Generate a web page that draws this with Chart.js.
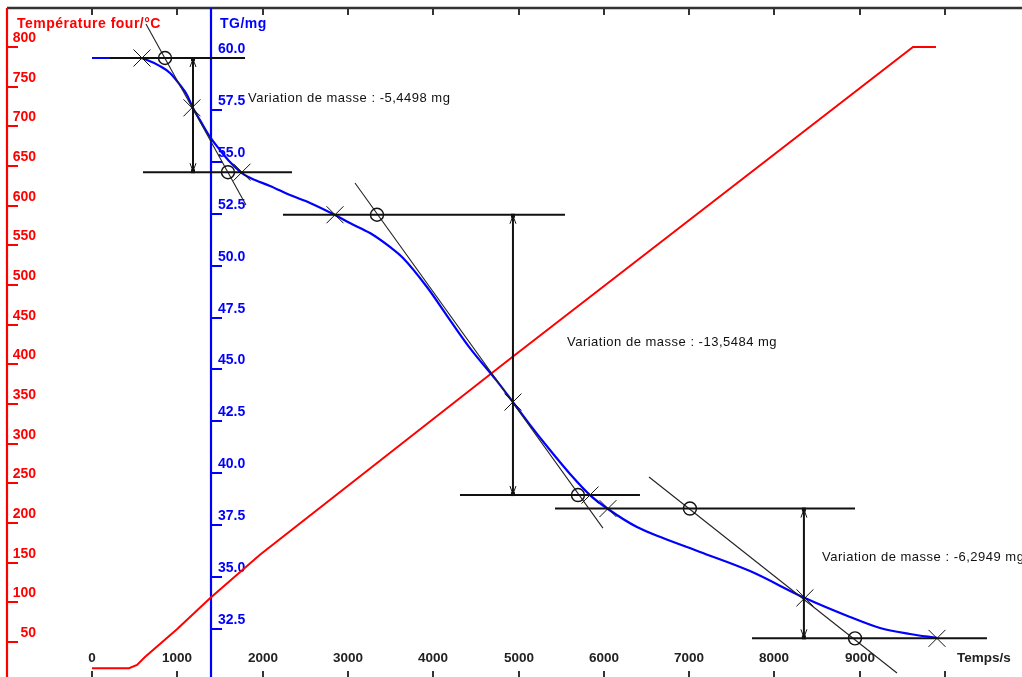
<!DOCTYPE html>
<html>
<head>
<meta charset="utf-8">
<script src="https://cdn.jsdelivr.net/npm/chart.js@4.4.1/dist/chart.umd.min.js"></script>
<style>
html,body{margin:0;padding:0;background:#fff;overflow:hidden}
#wrap{width:1022px;height:677px;position:relative}
</style>
</head>
<body>
<div id="wrap"><canvas id="c"></canvas></div>
<script>
// ---------------- DATA ----------------
// TG curve (time in s, mass in mg)
const timeTG = [0,563,645,797,914,1032,1114,1184,1266,1383,1500,1618,1758,1911,2087,2321,2556,2849,3024,3259,3493,3646,3927,4197,4431,4748,4935,5135,5369,5604,5838,6049,6389,6694,7128,7714,8358,8886,9238,9589,9906];
const massTG = [60.00,60.00,59.90,59.61,59.28,58.70,58.22,57.59,57.01,56.20,55.57,54.99,54.46,54.12,53.84,53.40,53.02,52.44,52.05,51.57,50.90,50.37,48.97,47.38,46.03,44.44,43.43,42.33,41.12,39.97,38.95,38.28,37.41,36.88,36.21,35.29,33.99,33.08,32.55,32.26,32.07];
// Furnace temperature (time in s, temperature in °C)
const timeTemp = [0,434,528,621,996,1383,1969,4924,9625,9894];
const tempFour = [17,17,21,31,66,105,160,409,800,800];

// Tick values / labels
const timeTicks = [0,1000,2000,3000,4000,5000,6000,7000,8000,9000,10000];
const timeTickLabels = ['0','1000','2000','3000','4000','5000','6000','7000','8000','9000',''];
const tempTicks = [50,100,150,200,250,300,350,400,450,500,550,600,650,700,750,800];
const massTicks = [32.5,35.0,37.5,40.0,42.5,45.0,47.5,50.0,52.5,55.0,57.5,60.0];

// Mass-loss step analysis (three steps)
const stepTop      = [60.00, 52.45, 38.30];   // mg
const stepBottom   = [54.50, 38.95, 32.05];   // mg
const topLineFrom  = [211, 2239, 5428];       // s
const topLineTo    = [1794, 5545, 8945];
const botLineFrom  = [598, 4314, 7737];
const botLineTo    = [2345, 6424, 10492];
const arrowTime    = [1184, 4935, 8346];
const tangentT0    = [633, 3083, 6530];
const tangentM0    = [61.64, 53.98, 39.82];
const tangentT1    = [1805, 5990, 9437];
const tangentM1    = [52.92, 37.36, 30.38];
const onsetCrossT  = [586, 2849, 6049];       // on stepTop
const midCrossT    = [1172, 4935, 8358];
const midCrossM    = [57.60, 43.43, 34.00];
const endCrossT    = [1758, 5838, 9906];      // on stepBottom
const topCircleT   = [856, 3341, 7010];       // on stepTop
const botCircleT   = [1594, 5697, 8945];      // on stepBottom
const massChange   = ['-5,4498', '-13,5484', '-6,2949'];
const labelT       = [1829, 5568, 8558];
const labelM       = [58.07, 46.32, 35.97];

// ---------------- LAYOUT ----------------
const W = 1022, H = 677;
const FRAME = {top: 8, bottom: 677, redX: 7, blueX: 211, tick: 11};
const FONT = '"Liberation Sans", Arial, Helvetica, sans-serif';

function xRange(v1, p1, v2, p2, left, width) { const k = (p2 - p1) / (v2 - v1); const min = v1 - (p1 - left) / k; return {min, max: min + width / k}; }
function yRange(v1, p1, v2, p2, top, height) { const k = (p2 - p1) / (v1 - v2); const max = v1 + (p1 - top) / k; return {min: max - height / k, max}; }

const pts = (ts, vs) => ts.map((t, i) => ({x: t, y: vs[i]}));

const datasets = [];
const crossPts = [];
for (let i = 0; i < 3; i++) {
  crossPts.push({x: onsetCrossT[i], y: stepTop[i]});
  crossPts.push({x: midCrossT[i], y: midCrossM[i]});
  crossPts.push({x: endCrossT[i], y: stepBottom[i]});
}
const circlePts = [];
for (let i = 0; i < 3; i++) {
  circlePts.push({x: topCircleT[i], y: stepTop[i]});
  circlePts.push({x: botCircleT[i], y: stepBottom[i]});
}
datasets.push({type: 'line', data: crossPts, yAxisID: 'yM', showLine: false, clip: false, pointStyle: 'crossRot', pointRadius: 12, pointBorderColor: '#111', pointBorderWidth: 1, pointBackgroundColor: 'transparent'});
datasets.push({type: 'line', data: circlePts, yAxisID: 'yM', showLine: false, clip: false, pointStyle: 'circle', pointRadius: 6.5, pointBorderColor: '#111', pointBorderWidth: 1.4, pointBackgroundColor: 'transparent'});
for (let i = 0; i < 3; i++) {
  datasets.push({type: 'line', clip: false, data: [{x: topLineFrom[i], y: stepTop[i]}, {x: topLineTo[i], y: stepTop[i]}], yAxisID: 'yM', borderColor: '#111', borderWidth: 2, pointRadius: 0});
  datasets.push({type: 'line', clip: false, data: [{x: botLineFrom[i], y: stepBottom[i]}, {x: botLineTo[i], y: stepBottom[i]}], yAxisID: 'yM', borderColor: '#111', borderWidth: 2, pointRadius: 0});
  datasets.push({type: 'line', clip: false, data: [{x: arrowTime[i], y: stepTop[i]}, {x: arrowTime[i], y: stepBottom[i]}], yAxisID: 'yM', borderColor: '#111', borderWidth: 2, pointRadius: 0});
  datasets.push({type: 'line', clip: false, data: [{x: tangentT0[i], y: tangentM0[i]}, {x: tangentT1[i], y: tangentM1[i]}], yAxisID: 'yM', borderColor: '#222', borderWidth: 1.1, pointRadius: 0});
}
datasets.push({type: 'line', clip: false, label: 'TG', data: pts(timeTG, massTG), yAxisID: 'yM', borderColor: '#0000ff', borderWidth: 2.2, pointRadius: 0, cubicInterpolationMode: 'monotone'});
datasets.push({type: 'line', clip: false, label: 'Température four', data: pts(timeTemp, tempFour), yAxisID: 'yT', borderColor: '#ff0000', borderWidth: 2, pointRadius: 0, tension: 0});

function seg(ctx, x1, y1, x2, y2) { ctx.beginPath(); ctx.moveTo(x1, y1); ctx.lineTo(x2, y2); ctx.stroke(); }

const axesPlugin = {
  id: 'axes',
  beforeDatasetsDraw(chart) {
    const ctx = chart.ctx, sx = chart.scales.x, sm = chart.scales.yM, st = chart.scales.yT;
    ctx.save();
    ctx.strokeStyle = '#333'; ctx.lineWidth = 2.5;
    seg(ctx, FRAME.redX, FRAME.top, W, FRAME.top);
    ctx.lineWidth = 2;
    ctx.fillStyle = '#222';
    ctx.font = 'bold 13.5px ' + FONT;
    ctx.textAlign = 'center'; ctx.textBaseline = 'middle';
    timeTicks.forEach((t, i) => {
      const x = Math.round(sx.getPixelForValue(t));
      seg(ctx, x, FRAME.top, x, FRAME.top + 7);
      seg(ctx, x, FRAME.bottom - 6, x, FRAME.bottom);
      if (timeTickLabels[i]) ctx.fillText(timeTickLabels[i], x, 658);
    });
    ctx.textAlign = 'left';
    ctx.fillText('Temps/s', sx.getPixelForValue(10000) + 12, 658);

    ctx.strokeStyle = '#ff0000'; ctx.fillStyle = '#ff0000'; ctx.lineWidth = 2.2;
    seg(ctx, FRAME.redX, FRAME.top, FRAME.redX, FRAME.bottom);
    ctx.lineWidth = 2;
    ctx.font = 'bold 14px ' + FONT;
    ctx.textAlign = 'right'; ctx.textBaseline = 'alphabetic';
    tempTicks.forEach(T => {
      const y = Math.round(st.getPixelForValue(T));
      seg(ctx, FRAME.redX, y, FRAME.redX + FRAME.tick, y);
      ctx.fillText(String(T), 36, y - 5);
    });
    ctx.textAlign = 'left'; ctx.textBaseline = 'middle';
    ctx.letterSpacing = '0.5px';
    ctx.fillText('Température four/°C', 17, 24);
    ctx.letterSpacing = '0px';

    ctx.strokeStyle = '#0000ff'; ctx.fillStyle = '#0000ff'; ctx.lineWidth = 2.2;
    seg(ctx, FRAME.blueX, FRAME.top, FRAME.blueX, FRAME.bottom);
    ctx.lineWidth = 2;
    ctx.textAlign = 'left'; ctx.textBaseline = 'alphabetic';
    massTicks.forEach(m => {
      const y = Math.round(sm.getPixelForValue(m));
      seg(ctx, FRAME.blueX, y, FRAME.blueX + FRAME.tick, y);
      ctx.fillText(m.toFixed(1), 218, y - 5);
    });
    ctx.textBaseline = 'middle';
    ctx.letterSpacing = '0.5px';
    ctx.fillText('TG/mg', 220, 24);
    ctx.letterSpacing = '0px';
    ctx.restore();
  },
  afterDatasetsDraw(chart) {
    const ctx = chart.ctx, sx = chart.scales.x, sm = chart.scales.yM;
    ctx.save();
    ctx.strokeStyle = '#111'; ctx.fillStyle = '#111'; ctx.lineWidth = 1;
    for (let i = 0; i < 3; i++) {
      const x = sx.getPixelForValue(arrowTime[i]);
      const y1 = sm.getPixelForValue(stepTop[i]);
      const y2 = sm.getPixelForValue(stepBottom[i]);
      ctx.fillRect(x - 2, y1 - 1, 4, 4);
      ctx.fillRect(x - 2, y2 - 3, 4, 4);
      seg(ctx, x, y1 + 1, x - 3, y1 + 9); seg(ctx, x, y1 + 1, x + 3, y1 + 9);
      seg(ctx, x, y2 - 1, x - 3, y2 - 9); seg(ctx, x, y2 - 1, x + 3, y2 - 9);
    }
    ctx.font = '13px ' + FONT;
    ctx.textAlign = 'left'; ctx.textBaseline = 'middle';
    ctx.letterSpacing = '0.5px';
    for (let i = 0; i < 3; i++) {
      ctx.fillText('Variation de masse : ' + massChange[i] + ' mg', sx.getPixelForValue(labelT[i]), sm.getPixelForValue(labelM[i]));
    }
    ctx.restore();
  }
};

const chart = new Chart(document.getElementById('c'), {
  data: {datasets},
  options: {
    responsive: true,
    maintainAspectRatio: false,
    animation: false,
    events: [],
    layout: {padding: 0},
    plugins: {legend: {display: false}, tooltip: {enabled: false}, title: {display: false}},
    scales: {
      x: {type: 'linear', display: false, min: 0, max: 10000},
      yM: {type: 'linear', display: false, min: 30, max: 62},
      yT: {type: 'linear', display: false, min: 0, max: 850}
    }
  },
  plugins: [axesPlugin]
});

// Fit the scale ranges to the actual chart area so that the axes land where they belong.
function fitScales() {
  const a = chart.chartArea;
  const w = a.right - a.left, h = a.bottom - a.top;
  const xr = xRange(0, 92, 10000, 945, a.left, w);
  const mr = yRange(60, 58, 32.5, 629, a.top, h);
  const tr = yRange(800, 47, 50, 642, a.top, h);
  const s = chart.options.scales;
  s.x.min = xr.min; s.x.max = xr.max;
  s.yM.min = mr.min; s.yM.max = mr.max;
  s.yT.min = tr.min; s.yT.max = tr.max;
  chart.update('none');
}
fitScales();
fitScales();
</script>
</body>
</html>
